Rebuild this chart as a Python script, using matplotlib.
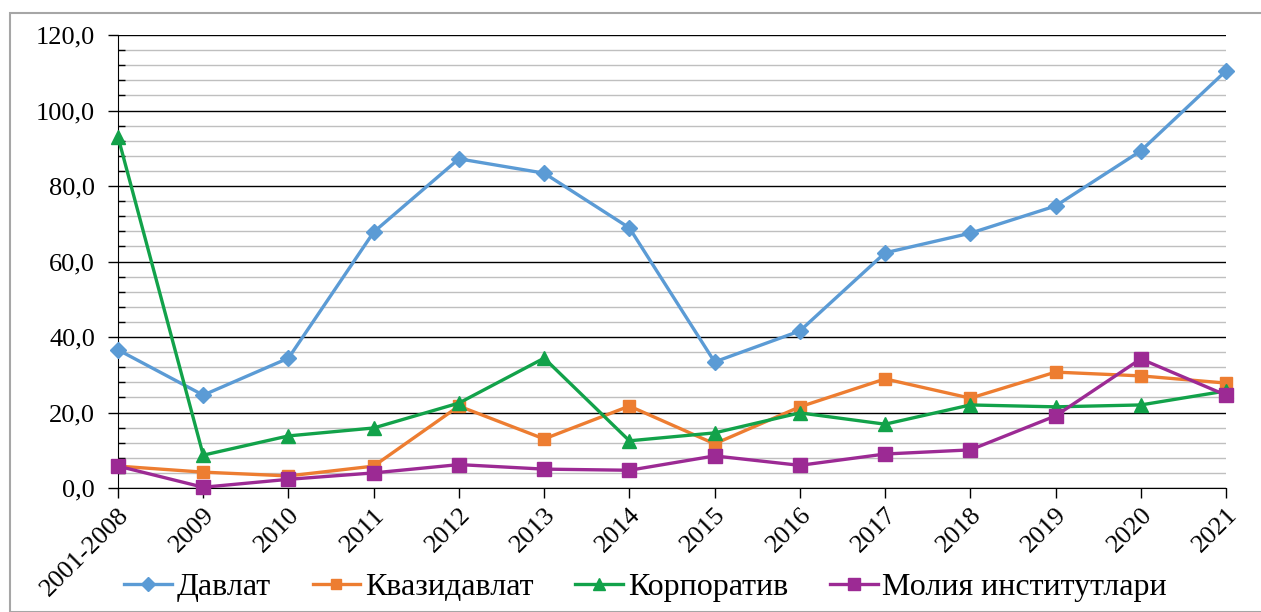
import matplotlib
matplotlib.use("Agg")
import matplotlib.pyplot as plt
from matplotlib.patches import Rectangle
from matplotlib.ticker import MultipleLocator, FuncFormatter

plt.rcParams["font.family"] = ["Liberation Serif", "DejaVu Serif"]

years = ["2001-2008", "2009", "2010", "2011", "2012", "2013", "2014",
         "2015", "2016", "2017", "2018", "2019", "2020", "2021"]

davlat = [36.6, 24.6, 34.4, 67.8, 87.2, 83.4, 68.9, 33.4, 41.6, 62.3, 67.5, 74.7, 89.3, 110.5]
kvazidavlat = [5.8, 4.2, 3.2, 5.8, 21.7, 13.0, 21.7, 11.7, 21.5, 28.9, 23.8, 30.7, 29.7, 27.8]
korporativ = [93.0, 8.7, 13.8, 15.9, 22.5, 34.4, 12.5, 14.6, 19.9, 16.9, 22.0, 21.5, 22.0, 25.7]
moliya = [5.8, 0.2, 2.3, 4.0, 6.2, 5.0, 4.7, 8.5, 6.0, 9.0, 10.1, 19.1, 34.2, 24.6]

series = [
    ("Давлат", davlat, "#5b9bd5", "D", 8),
    ("Квазидавлат", kvazidavlat, "#ed7d31", "s", 8),
    ("Корпоратив", korporativ, "#12a24a", "^", 10),
    ("Молия институтлари", moliya, "#9c2a94", "s", 10),
]

fig = plt.figure(figsize=(12.61, 6.12), dpi=100)
# thin grey frame around the chart area
fig.patches.append(Rectangle((10 / 1261, 0), 1.2, 1 - 13 / 612,
                             transform=fig.transFigure, fill=False,
                             edgecolor="#a6a6a6", linewidth=1.5))
ax = fig.add_axes([118 / 1261, 1 - 488 / 612, (1226 - 118) / 1261, (488 - 35) / 612])

x = list(range(len(years)))
for name, vals, color, marker, ms in series:
    ax.plot(x, vals, color=color, linewidth=2.4, marker=marker, markersize=ms,
            label=name, zorder=3, clip_on=False)

ax.set_xlim(0, len(years) - 1)
ax.set_ylim(0, 120)
ax.yaxis.set_major_locator(MultipleLocator(20))
ax.yaxis.set_minor_locator(MultipleLocator(4))
ax.yaxis.set_major_formatter(FuncFormatter(lambda v, _: f"{v:.1f}".replace(".", ",")))
ax.grid(which="minor", axis="y", color="#bfbfbf", linewidth=1.0, zorder=0)
ax.grid(which="major", axis="y", color="black", linewidth=1.0, zorder=1)

ax.set_xticks(x)
ax.set_xticklabels(years, rotation=45, ha="right", rotation_mode="anchor")
ax.tick_params(axis="x", length=7.5, width=1, labelsize=19, pad=4)
ax.tick_params(axis="y", which="major", length=7.5, width=1, labelsize=19, pad=9)
ax.tick_params(axis="y", which="minor", direction="in", length=5, width=1)

for side in ("top", "right"):
    ax.spines[side].set_visible(False)
ax.spines["left"].set_color("black")
ax.spines["bottom"].set_color("black")

fig.legend(loc="center", bbox_to_anchor=(0.512, 1 - 587 / 612), ncol=4,
           frameon=False, fontsize=23, handlelength=1.5, columnspacing=1.3,
           handletextpad=0.15, markerscale=0.9)

fig.savefig("out.png", dpi=100)
